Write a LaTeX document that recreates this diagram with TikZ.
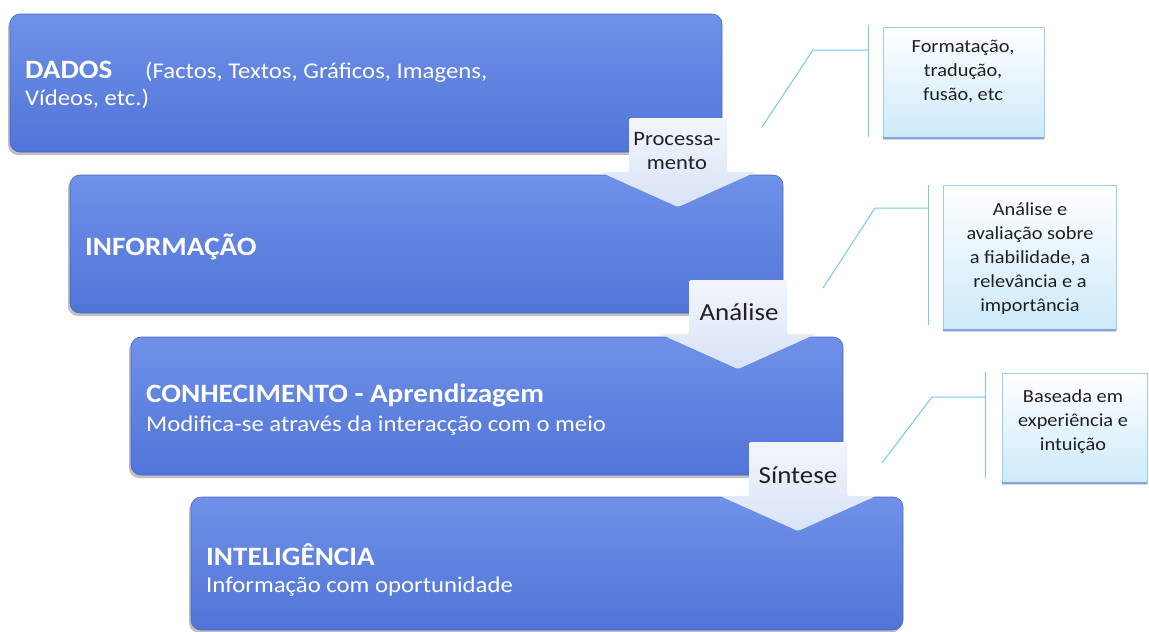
\documentclass[tikz,border=0pt]{standalone}
\usepackage{fontspec}
\setmainfont{Carlito}[FakeStretch=1.1]
\usetikzlibrary{shadows}

\definecolor{boxtop}{HTML}{6F91E8}
\definecolor{boxbot}{HTML}{5174D8}
\definecolor{boxedge}{HTML}{4A68C8}
\definecolor{arrtop}{HTML}{F2F5FC}
\definecolor{arrbot}{HTML}{D9E3F6}
\definecolor{notetop}{HTML}{FFFFFF}
\definecolor{notebot}{HTML}{CDEAFA}
\definecolor{noteedge}{HTML}{9ECDEE}
\definecolor{notebase}{HTML}{7FA6DE}
\definecolor{linkcol}{HTML}{78C9EE}
\definecolor{inkcol}{HTML}{202020}

\newcommand{\titlefont}{\bfseries\fontsize{26.5}{30}\selectfont}
\newcommand{\subfont}{\fontsize{22.5}{27}\selectfont}
\newcommand{\notefont}{\fontsize{18.5}{24}\selectfont}
\newcommand{\arrowfont}{\fontsize{24.5}{28}\selectfont}
\newcommand{\procfont}{\fontsize{20.5}{23.5}\selectfont}

\tikzset{
  levelbox/.style={draw=boxedge, line width=0.6pt, rounded corners=10pt,
    top color=boxtop, bottom color=boxbot,
    drop shadow={shadow xshift=-2pt, shadow yshift=-3pt, opacity=0.35, fill=black!70}},
  flowarrow/.style={top color=arrtop, bottom color=arrbot, draw=none, rounded corners=1.5pt},
  titletext/.style={anchor=base west, inner sep=0pt, text=white, font=\titlefont},
  subtext/.style={anchor=base west, inner sep=0pt, text=white, font=\subfont},
  arrowtext/.style={inner sep=0pt, text=inkcol, align=center},
  notebox/.style={draw=noteedge, line width=0.6pt, top color=notetop, bottom color=notebot,
    drop shadow={shadow xshift=0pt, shadow yshift=-2pt, opacity=0.25, fill=black!60}},
  notebaseline/.style={draw=notebase, line width=1.6pt},
  notetext/.style={inner sep=0pt, text=inkcol, align=center, font=\notefont},
  linkline/.style={draw=linkcol, line width=1pt},
}

\begin{document}
\begin{tikzpicture}[x=1pt, y=-1pt]
  \fill[white] (0,0) rectangle (1149,632);
  \useasboundingbox (0,0) rectangle (1149,632);

  % the four levels
  \path[levelbox] (10,14) rectangle (722,152);
  \path[levelbox] (70,175) rectangle (783,313);
  \path[levelbox] (131,337) rectangle (843,475);
  \path[levelbox] (191,497) rectangle (903,630);

  \node[titletext] (dados) at (25,78) {DADOS};
  \node[subtext] (dadosA) at (145,78) {(Factos, Textos, Gráficos, Imagens,};
  \node[subtext] (dadosB) at (25,105) {Vídeos, etc.)};
  \node[titletext] (info) at (85,255) {INFORMAÇÃO};
  \node[titletext] (conh) at (146,402) {CONHECIMENTO - Aprendizagem};
  \node[subtext] (conhB) at (146,431) {Modifica-se através da interacção com o meio};
  \node[titletext] (intel) at (206,565) {INTELIGÊNCIA};
  \node[subtext] (intelB) at (206,592) {Informação com oportunidade};

  % downward arrows between the levels
  \foreach \cx/\ty in {678/118, 738/280, 798/442}{
    \path[flowarrow] (\cx-49,\ty) -- (\cx+49,\ty) -- (\cx+49,\ty+54) -- (\cx+78,\ty+54)
      -- (\cx,\ty+89) -- (\cx-78,\ty+54) -- (\cx-49,\ty+54) -- cycle;
  }
  \node[arrowtext, font=\procfont] (proc) at (677,151) {Processa-\\mento};
  \node[arrowtext, font=\arrowfont] (anal) at (739,312) {Análise};
  \node[arrowtext, font=\arrowfont] (sint) at (798,475) {Síntese};

  % side notes
  \path[notebox] (883,27) rectangle (1044,138);
  \path[notebox] (943,185) rectangle (1116,330);
  \path[notebox] (1002,373) rectangle (1147,483);
  \draw[notebaseline] (883,138) -- (1044,138);
  \draw[notebaseline] (943,330) -- (1116,330);
  \draw[notebaseline] (1002,483) -- (1147,483);
  \node[notetext] (noteA) at (963,72) {Formatação,\\tradução,\\fusão, etc};
  \node[notetext] (noteB) at (1030,259) {Análise e\\avaliação sobre\\a fiabilidade, a\\relevância e a\\importância};
  \node[notetext] (noteC) at (1073,422) {Baseada em\\experiência e\\intuição};

  % brackets tying each note to its step
  \coordinate (tipA) at (762,127);
  \coordinate (elbA) at (813,50);
  \coordinate (midA) at (868,50);
  \coordinate (topA) at (868,25);
  \coordinate (botA) at (868,137);
  \draw[linkline] (tipA) -- (elbA) -- (midA);
  \draw[linkline] (topA) -- (botA);

  \coordinate (tipB) at (823,288);
  \coordinate (elbB) at (875,208);
  \coordinate (midB) at (928,208);
  \coordinate (topB) at (928,185);
  \coordinate (botB) at (928,325);
  \draw[linkline] (tipB) -- (elbB) -- (midB);
  \draw[linkline] (topB) -- (botB);

  \coordinate (tipC) at (882,463);
  \coordinate (elbC) at (932,397);
  \coordinate (midC) at (985,397);
  \coordinate (topC) at (985,372);
  \coordinate (botC) at (985,478);
  \draw[linkline] (tipC) -- (elbC) -- (midC);
  \draw[linkline] (topC) -- (botC);
\end{tikzpicture}
\end{document}
